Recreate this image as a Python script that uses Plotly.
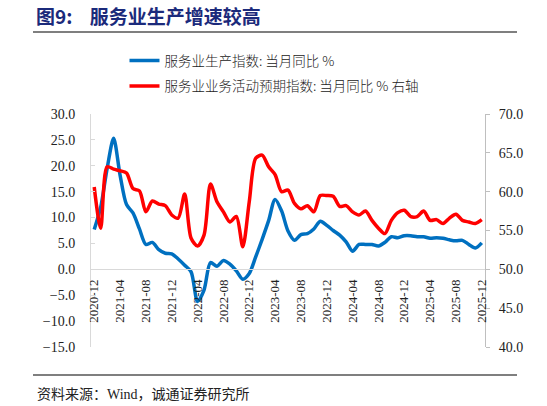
import plotly.graph_objects as go

# months 2020-12 .. 2025-12
months = [f"{y}-{m:02d}" for y in range(2020, 2026) for m in range(1, 13)]
months = months[months.index("2020-12"):]

# 服务业生产指数 当月同比 % (left axis)
services_prod = [
    7.7, 12.0, 19.5, 25.3, 18.2, 12.5, 10.9, 7.8, 4.8, 5.2, 3.8, 3.1,
    3.0, 2.0, 0.8, -0.5, -6.2, -4.0, 1.3, 0.6, 1.7, 1.0, -0.3, -1.9,
    -0.8, 2.4, 5.8, 9.4, 13.5, 11.3, 7.4, 5.6, 6.7, 6.9, 7.8, 9.3,
    8.5, 7.5, 6.6, 5.3, 3.5, 4.8, 4.8, 4.8, 4.5, 5.2, 6.3, 6.1,
    6.5, 6.5, 6.3, 6.3, 6.0, 6.1, 6.0, 5.7, 5.5, 5.6, 4.8, 4.1,
    5.1,
]

# 服务业业务活动预期指数 (right axis)
services_expect = [
    60.6, 55.3, 63.2, 62.9, 62.7, 62.4, 60.4, 60.1, 57.4, 58.8, 58.4, 58.2,
    57.0, 56.6, 59.7, 54.0, 53.0, 54.4, 61.0, 58.7, 57.4, 56.1, 56.8, 52.9,
    58.7, 64.3, 64.7, 63.2, 62.2, 60.0, 60.2, 58.5, 57.8, 58.2, 57.4, 59.5,
    59.5, 59.4, 58.1, 58.2, 57.4, 57.0, 57.5, 56.3, 55.3, 54.6, 56.3, 57.3,
    57.6, 56.8, 56.8, 57.5, 56.3, 56.4, 55.9, 56.6, 57.1, 56.3, 56.1, 55.9,
    56.4,
]

tick_months = months[::4]

fig = go.Figure()
fig.add_trace(go.Scatter(
    x=months, y=services_prod, name="服务业生产指数: 当月同比 %",
    mode="lines", line=dict(color="#0070C0", width=3.5, shape="spline", smoothing=0.8),
    legendgroup="a",
))
fig.add_trace(go.Scatter(
    x=months, y=services_expect, name="服务业业务活动预期指数: 当月同比 % 右轴",
    mode="lines", line=dict(color="#FF0000", width=3.5, shape="spline", smoothing=0.8),
    yaxis="y2", legendgroup="b",
))

serif = "Times New Roman, Liberation Serif, serif"
tick_font = dict(family=serif, size=14, color="#222222")

fig.update_layout(
    width=547, height=406,
    margin=dict(l=91, r=62, t=114, b=59),
    paper_bgcolor="white", plot_bgcolor="white",
    showlegend=True,
    legend=dict(
        x=0.085, y=1.295, xanchor="left", yanchor="top",
        font=dict(family="Noto Sans CJK SC", size=13.5, color="#222222", weight=300),
        traceorder="grouped", tracegroupgap=5, itemwidth=30,
        bgcolor="rgba(0,0,0,0)",
    ),
    xaxis=dict(
        type="category", categoryorder="array", categoryarray=months,
        range=[-0.5, len(months) - 0.5],
        tickmode="array", tickvals=tick_months, ticktext=tick_months,
        tickangle=-90, tickfont=dict(family=serif, size=13, color="#222222"),
        showline=True, linecolor="#d9d9d9", linewidth=1,
        ticks="", showgrid=False, zeroline=False,
        anchor="free", position=15 / 45, ticklabelstandoff=4,
    ),
    yaxis=dict(
        range=[-15, 30], dtick=5, tickformat=".1f", tickfont=tick_font,
        showline=True, linecolor="#d9d9d9", linewidth=1,
        ticks="inside", ticklen=4, tickcolor="#d9d9d9",
        showgrid=False, zeroline=False, ticklabelstandoff=12,
    ),
    yaxis2=dict(
        range=[40, 70], dtick=5, tickformat=".1f", tickfont=tick_font,
        overlaying="y", side="right",
        showline=True, linecolor="#bfbfbf", linewidth=1,
        ticks="outside", ticklen=4, tickcolor="#bfbfbf",
        showgrid=False, zeroline=False, ticklabelstandoff=6,
    ),
)

# header / footer
fig.add_annotation(
    text="图9:    服务业生产增速较高", xref="paper", yref="paper",
    x=(34 - 91) / 394, y=1 + (114 - 16) / 233, xanchor="left", yanchor="middle",
    showarrow=False, font=dict(family="Noto Sans CJK SC", size=19, color="#1B2A7B", weight="bold"),
)
fig.add_annotation(
    text="资料来源：<span style='font-family:Times New Roman, Liberation Serif, serif'>Wind</span>，诚通证券研究所",
    xref="paper", yref="paper",
    x=(35 - 91) / 394, y=-(393 - 347) / 233, xanchor="left", yanchor="middle",
    showarrow=False, font=dict(family="Noto Sans CJK SC", size=14, color="#222222"),
)
for ypx in (32, 375):
    fig.add_shape(
        type="line", xref="paper", yref="paper",
        x0=(33 - 91) / 394, x1=(517 - 91) / 394,
        y0=(347 - ypx) / 233, y1=(347 - ypx) / 233,
        line=dict(color="#555555", width=1.5),
    )

fig.write_html(
    "out.html",
    config={"displayModeBar": False},
    post_script="document.body.style.margin='0';",
)
